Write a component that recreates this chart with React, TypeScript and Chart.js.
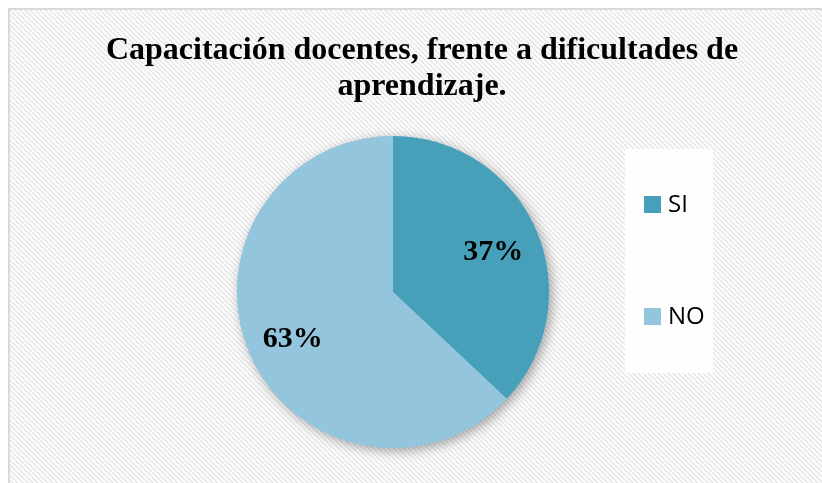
import React, { useEffect, useRef } from "react";
import { Chart, registerables } from "chart.js";

Chart.register(...registerables);

const titleLines = ["Capacitación docentes, frente a dificultades de", "aprendizaje."];
const categories = ["SI", "NO"];
const values = [37, 63];
const colors = ["#46A0BA", "#93C6DC"];
const percentLabels = ["37%", "63%"];

const bgPlugin = {
  id: "bgPlugin",
  beforeDraw(chart: any) {
    const ctx = chart.ctx;
    const W = chart.width;
    const H = chart.height;
    ctx.save();
    ctx.fillStyle = "#ffffff";
    ctx.fillRect(0, 0, W, H);
    // hatch
    const pc = document.createElement("canvas");
    pc.width = 5;
    pc.height = 5;
    const p = pc.getContext("2d")!;
    p.fillStyle = "#ffffff";
    p.fillRect(0, 0, 5, 5);
    p.strokeStyle = "#e8e8e8";
    p.lineWidth = 1.7;
    p.beginPath();
    p.moveTo(-1, -1);
    p.lineTo(6, 6);
    p.moveTo(-6, -1);
    p.lineTo(1, 6);
    p.moveTo(4, -1);
    p.lineTo(11, 6);
    p.stroke();
    const pat = ctx.createPattern(pc, "repeat");
    ctx.fillStyle = pat;
    ctx.fillRect(9, 9, W, H);
    // border
    ctx.strokeStyle = "#d9d9d9";
    ctx.lineWidth = 2;
    ctx.beginPath();
    ctx.moveTo(9, H + 2);
    ctx.lineTo(9, 9);
    ctx.lineTo(W + 2, 9);
    ctx.stroke();
    // title
    ctx.fillStyle = "#000000";
    ctx.font = "bold 32px 'Liberation Serif', 'Times New Roman', serif";
    ctx.textAlign = "center";
    ctx.textBaseline = "alphabetic";
    ctx.fillText(titleLines[0], 422, 59);
    ctx.fillText(titleLines[1], 422, 95);
    // legend
    ctx.fillStyle = "rgba(255,255,255,0.9)";
    ctx.fillRect(625, 149, 88, 224);
    const ys = [196, 308];
    ctx.font = "24px 'Open Sans', sans-serif";
    ctx.textAlign = "left";
    ctx.textBaseline = "middle";
    categories.forEach((c, i) => {
      ctx.fillStyle = colors[i];
      ctx.fillRect(644, ys[i], 17, 17);
      ctx.fillStyle = "#000000";
      ctx.fillText(c, 668, ys[i] + 9);
    });
    ctx.restore();
  },
  beforeDatasetsDraw(chart: any) {
    const meta = chart.getDatasetMeta(0);
    const arc = meta.data[0];
    if (!arc) return;
    const ctx = chart.ctx;
    ctx.save();
    ctx.shadowColor = "rgba(0,0,0,0.35)";
    ctx.shadowBlur = 12;
    ctx.shadowOffsetX = 3;
    ctx.shadowOffsetY = 3;
    ctx.fillStyle = "#93C6DC";
    ctx.beginPath();
    ctx.arc(arc.x, arc.y, arc.outerRadius, 0, Math.PI * 2);
    ctx.fill();
    ctx.restore();
  },
  afterDatasetsDraw(chart: any) {
    const meta = chart.getDatasetMeta(0);
    const ctx = chart.ctx;
    ctx.save();
    ctx.fillStyle = "#000000";
    ctx.font = "bold 30px 'Liberation Serif', 'Times New Roman', serif";
    ctx.textAlign = "center";
    ctx.textBaseline = "middle";
    meta.data.forEach((a: any, i: number) => {
      const mid = (a.startAngle + a.endAngle) / 2;
      const r = a.outerRadius * 0.7;
      ctx.fillText(percentLabels[i], a.x + Math.cos(mid) * r, a.y + Math.sin(mid) * r + 4);
    });
    ctx.restore();
  },
};

export default function App() {
  const ref = useRef<HTMLCanvasElement>(null);
  useEffect(() => {
    if (!ref.current) return;
    const chart = new Chart(ref.current, {
      type: "pie",
      data: {
        labels: categories,
        datasets: [
          {
            data: values,
            backgroundColor: colors,
            borderWidth: 0,
            hoverOffset: 0,
          },
        ],
      },
      options: {
        responsive: false,
        animation: false,
        devicePixelRatio: 1,
        layout: { padding: { left: 237, right: 273, top: 136, bottom: 35 } },
        plugins: {
          legend: { display: false },
          title: { display: false },
          tooltip: { enabled: false },
        },
      },
      plugins: [bgPlugin],
    });
    return () => chart.destroy();
  }, []);
  return (
    <div style={{ position: "fixed", left: 0, top: 0, width: 822, height: 483 }}>
      <canvas ref={ref} width={822} height={483} />
    </div>
  );
}
